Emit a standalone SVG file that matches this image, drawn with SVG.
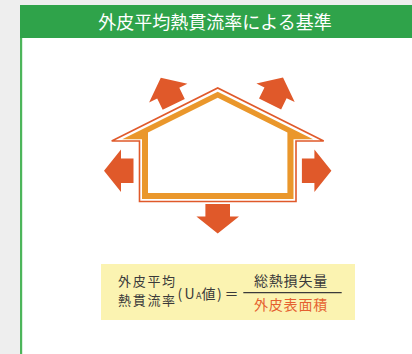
<svg xmlns="http://www.w3.org/2000/svg" width="412" height="354" viewBox="0 0 412 354">
  <style>
    .jp { font-family: "Noto Sans CJK JP", "Noto Sans", sans-serif; }
    .title { fill: #ffffff; font-size: 18px; }
    .formula { fill: #3a3a3a; font-size: 14px; }
    .label { fill: #3a3a3a; font-size: 13px; letter-spacing: 1.7px; }
    .denom { fill: #e5602f; font-size: 14px; }
    .arrow { fill: #e0592a; }
  </style>
  <defs>
    <!-- heat-loss arrow, pointing up, tip at the origin -->
    <path id="heatArrow" d="M0,0 L21.3,17 L12.3,17 L12.3,29.5 L-12.3,29.5 L-12.3,17 L-21.3,17 Z"/>
  </defs>

  <!-- page background and panel -->
  <rect x="0" y="0" width="412" height="354" fill="#eeeeee"/>
  <rect x="20" y="5" width="392" height="349" fill="#ffffff"/>
  <rect x="20" y="36" width="2.2" height="318" fill="#4cb55a"/>

  <!-- header bar -->
  <g id="header">
    <rect x="20" y="5" width="392" height="33" fill="#2fa34a"/>
    <text class="jp title" x="215" y="29.3" text-anchor="middle">外皮平均熱貫流率による基準</text>
  </g>

  <!-- house cross-section -->
  <g id="house">
    <path d="M111.7,141 L217.7,88 L323.7,141 L296,141 L296,201.5 L139.5,201.5 L139.5,141 Z"
          fill="none" stroke="#e0592a" stroke-width="1.6" stroke-linejoin="miter"/>
    <path fill="#ea972b" fill-rule="evenodd"
          d="M122.3,139.3 L217.7,91.8 L313.1,139.3 L293.5,139.3 L293.5,199 L142,199 L142,139.3 Z
             M148,132.6 L217.7,97.8 L287.4,132.6 L287.4,193 L148,193 Z"/>
  </g>

  <!-- heat flowing out through the envelope -->
  <g id="connectors">
    <use href="#heatArrow" class="arrow" transform="translate(160.8,77.8) rotate(-26)"/>
    <use href="#heatArrow" class="arrow" transform="translate(283,77.5) rotate(26)"/>
    <use href="#heatArrow" class="arrow" transform="translate(104,170.8) rotate(-90)"/>
    <use href="#heatArrow" class="arrow" transform="translate(331.4,170.8) rotate(90)"/>
    <use href="#heatArrow" class="arrow" transform="translate(217.7,233.5) rotate(180)"/>
  </g>

  <!-- UA formula -->
  <g id="formula">
    <rect x="101" y="264" width="254" height="56" fill="#fbf3b1"/>
    <text class="jp label" x="118" y="285.5">外皮平均</text>
    <text class="jp label" x="118" y="304.6">熱貫流率</text>
    <text class="jp formula" y="298.5">
      <tspan x="177.5">(</tspan><tspan x="184.5">U</tspan><tspan x="196" font-size="9">A</tspan><tspan x="201.5">値</tspan><tspan x="217">)</tspan><tspan x="224.5">＝</tspan>
    </text>
    <line x1="243.3" y1="292.7" x2="341.7" y2="292.7" stroke="#3a3a3a" stroke-width="1.2"/>
    <text class="jp formula" x="291" y="286" text-anchor="middle" letter-spacing="0.8">総熱損失量</text>
    <text class="jp denom" x="291" y="310" text-anchor="middle" letter-spacing="0.8">外皮表面積</text>
  </g>
</svg>
